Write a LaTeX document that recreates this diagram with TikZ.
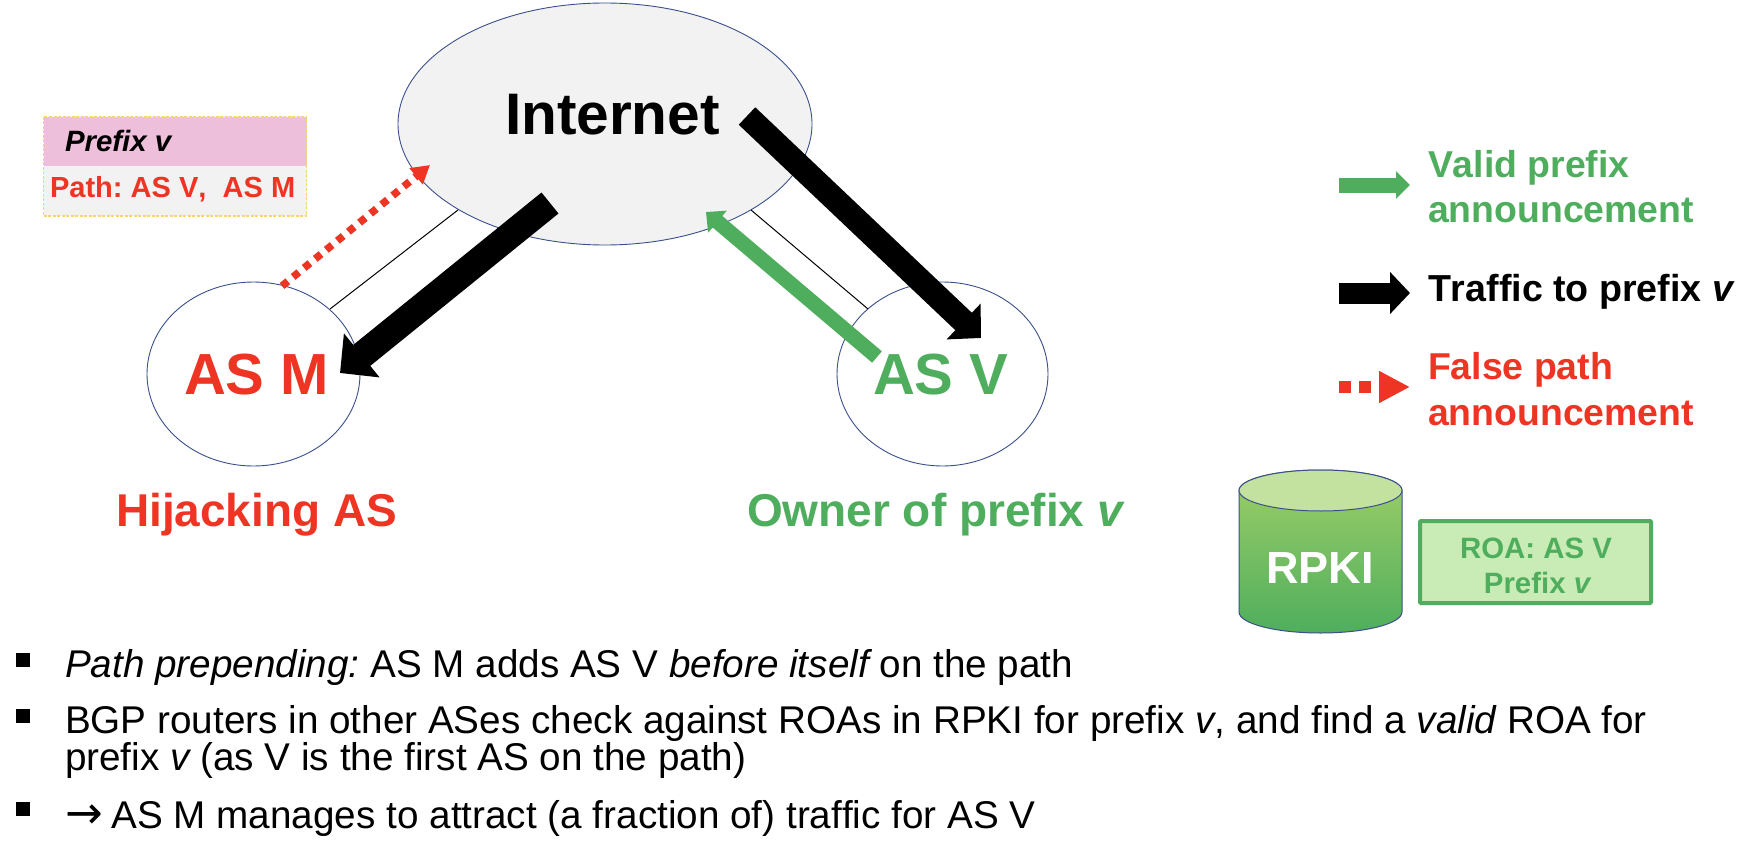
\documentclass[tikz,border=0pt]{standalone}
\usepackage{fontspec}
\setmainfont[Kerning=Off]{Liberation Sans}
\newfontfamily\arrowfont{DejaVu Sans}
\usetikzlibrary{arrows.meta,shapes.geometric}
\definecolor{cred}{HTML}{EE3524}
\definecolor{cgreen}{HTML}{4FAE5D}
\definecolor{cout}{HTML}{3A4F8C}
\definecolor{cgrey}{HTML}{F2F2F2}
\definecolor{cpink}{HTML}{EEBFDA}
\definecolor{cgold}{HTML}{F9D46A}
\definecolor{croa}{HTML}{C9ECB6}
\definecolor{ctop}{HTML}{C3E2A0}
\definecolor{cupper}{HTML}{9FCE68}
\tikzset{
  blob/.style={draw=cout,line width=0.9pt,shape=ellipse,inner sep=0pt},
  lbl/.style={anchor=base west,inner sep=0pt,outer sep=0pt,font=\fontsize{#1}{#1}\selectfont\bfseries},
  bodytext/.style={anchor=base west,inner sep=0pt,outer sep=0pt,font=\fontsize{38.67}{38.67}\selectfont},
  bul/.style={fill=black,minimum size=14pt,inner sep=0pt,shape=rectangle},
  thinlink/.style={draw=black,line width=1pt},
  trafficm/.style={draw=black,line width=27pt,-{Triangle[length=28pt,width=55pt]}},
  trafficv/.style={draw=black,line width=24pt,-{Triangle[length=24pt,width=48pt]}},
  valid/.style={draw=cgreen,line width=15pt,-{Triangle[length=15pt,width=28pt]}},
  falsepath/.style={draw=cred,line width=7.5pt,dash pattern=on 7.5pt off 6.8pt,-{Triangle[length=18pt,width=20pt]}}
}
\begin{document}
\frenchspacing
\begin{tikzpicture}[x=1pt,y=-1pt]
\useasboundingbox (0,0) rectangle (1748,848);
% clouds
\node[blob,fill=cgrey,minimum width=414pt,minimum height=242pt] (net) at (605,124) {};
\node[blob,fill=white,minimum width=213pt,minimum height=184pt] (asm) at (253.5,374) {};
\node[blob,fill=white,minimum width=211pt,minimum height=184pt] (asv) at (942.5,374) {};
% thin links
\coordinate (lm1) at (330,309); \coordinate (lm2) at (458,210);
\coordinate (lv1) at (868,309); \coordinate (lv2) at (751,210);
\draw[thinlink] (lm1) -- (lm2);
\draw[thinlink] (lv1) -- (lv2);
% labels
\node[lbl=58.6] (tnet) at (505,135) {Internet};
\node[lbl=58,text=cred] (tasm) at (184,394) {AS M};
\node[lbl=58,text=cgreen] (tasv) at (873,394) {AS V};
\node[lbl=46,text=cred] (thij) at (116,526) {Hijacking AS};
\node[lbl=46,text=cgreen] (town) at (747,526) {Owner of prefix {\itshape v}};
% arrows
\coordinate (am1) at (550,203); \coordinate (am2) at (340,373);
\coordinate (av1) at (747,116); \coordinate (av2) at (981,338);
\coordinate (gv1) at (877,357); \coordinate (gv2) at (706,212);
\coordinate (rv1) at (282,286); \coordinate (rv2) at (430,165);
\draw[trafficm] (am1) -- (am2);
\draw[trafficv] (av1) -- (av2);
\draw[valid] (gv1) -- (gv2);
\draw[falsepath] (rv1) -- (rv2);
% prefix box
\fill[cgrey] (43.5,117) rectangle (306.5,216);
\fill[cpink] (43.5,117) rectangle (306.5,166);
\draw[cgold,line width=1.2pt,dash pattern=on 3pt off 1.5pt] (43.5,117) rectangle (306.5,216);
\node[lbl=29.4] (tpre) at (65,151) {{\itshape Prefix v}};
\node[lbl=29.05,text=cred] (tpath) at (50,197) {Path: AS V,~ AS M};
% legend
\coordinate (l1a) at (1339,185); \coordinate (l1b) at (1410,185);
\coordinate (l2a) at (1339,293); \coordinate (l2b) at (1410,293);
\coordinate (l3a) at (1339,387); \coordinate (l3b) at (1410,387);
\draw[draw=cgreen,line width=15pt,-{Triangle[length=14pt,width=27pt]}] (l1a) -- (l1b);
\draw[draw=black,line width=21pt,-{Triangle[length=20pt,width=41pt]}] (l2a) -- (l2b);
\draw[draw=cred,line width=12pt,dash pattern=on 12pt off 8pt,-{Triangle[length=31pt,width=30pt]}] (l3a) -- (l3b);
\node[lbl=37.4,text=cgreen] (tl1) at (1428,177) {Valid prefix};
\node[lbl=37.4,text=cgreen] (tl1b) at (1428,222) {announcement};
\node[lbl=37.6] (tl2) at (1428,301) {Traffic to prefix {\itshape v}};
\node[lbl=37.4,text=cred] (tl3) at (1428,379) {False path};
\node[lbl=37.4,text=cred] (tl3b) at (1428,425) {announcement};
% RPKI cylinder
\path[draw=cout,line width=1pt,top color=cupper,bottom color=cgreen]
  (1239,490.5) -- (1239,612) arc[start angle=180,end angle=0,x radius=81.5,y radius=21]
  -- (1402,490.5) arc[start angle=0,end angle=-180,x radius=81.5,y radius=20.5] -- cycle;
\draw[cout,line width=1pt,fill=ctop] (1320.5,490.5) ellipse[x radius=81.5,y radius=20.5];
\node[lbl=45,text=white,anchor=base] (trpki) at (1320,583) {RPKI};
\node[draw=cgreen,line width=4pt,fill=croa,minimum width=231pt,minimum height=82pt,inner sep=0pt,shape=rectangle,rounded corners=1pt] (roa) at (1535.5,562) {};
\node[lbl=29.4,text=cgreen,anchor=base] (troa1) at (1536,558) {ROA: AS V};
\node[lbl=29.4,text=cgreen,anchor=base] (troa2) at (1537,593) {Prefix {\itshape v}};
% bullets
\node[bul] (b1) at (22.5,659.5) {};
\node[bul] (b2) at (22.5,715.5) {};
\node[bul] (b3) at (22.5,808.5) {};
\node[bodytext] (s1) at (65,677) {{\itshape Path prepending:} AS M adds AS V {\itshape before itself} on the path};
\node[bodytext] (s2) at (65,733) {BGP routers in other ASes check against ROAs in RPKI for prefix {\itshape v}, and find a {\itshape valid} ROA for};
\node[bodytext] (s2b) at (65,770) {prefix {\itshape v} (as V is the first AS on the path)};
\node[bodytext] (s3) at (65,828) {\makebox[46.5pt][l]{\arrowfont\fontsize{45}{45}\selectfont →}AS M manages to attract (a fraction of) traffic for AS V};
\end{tikzpicture}
\end{document}
